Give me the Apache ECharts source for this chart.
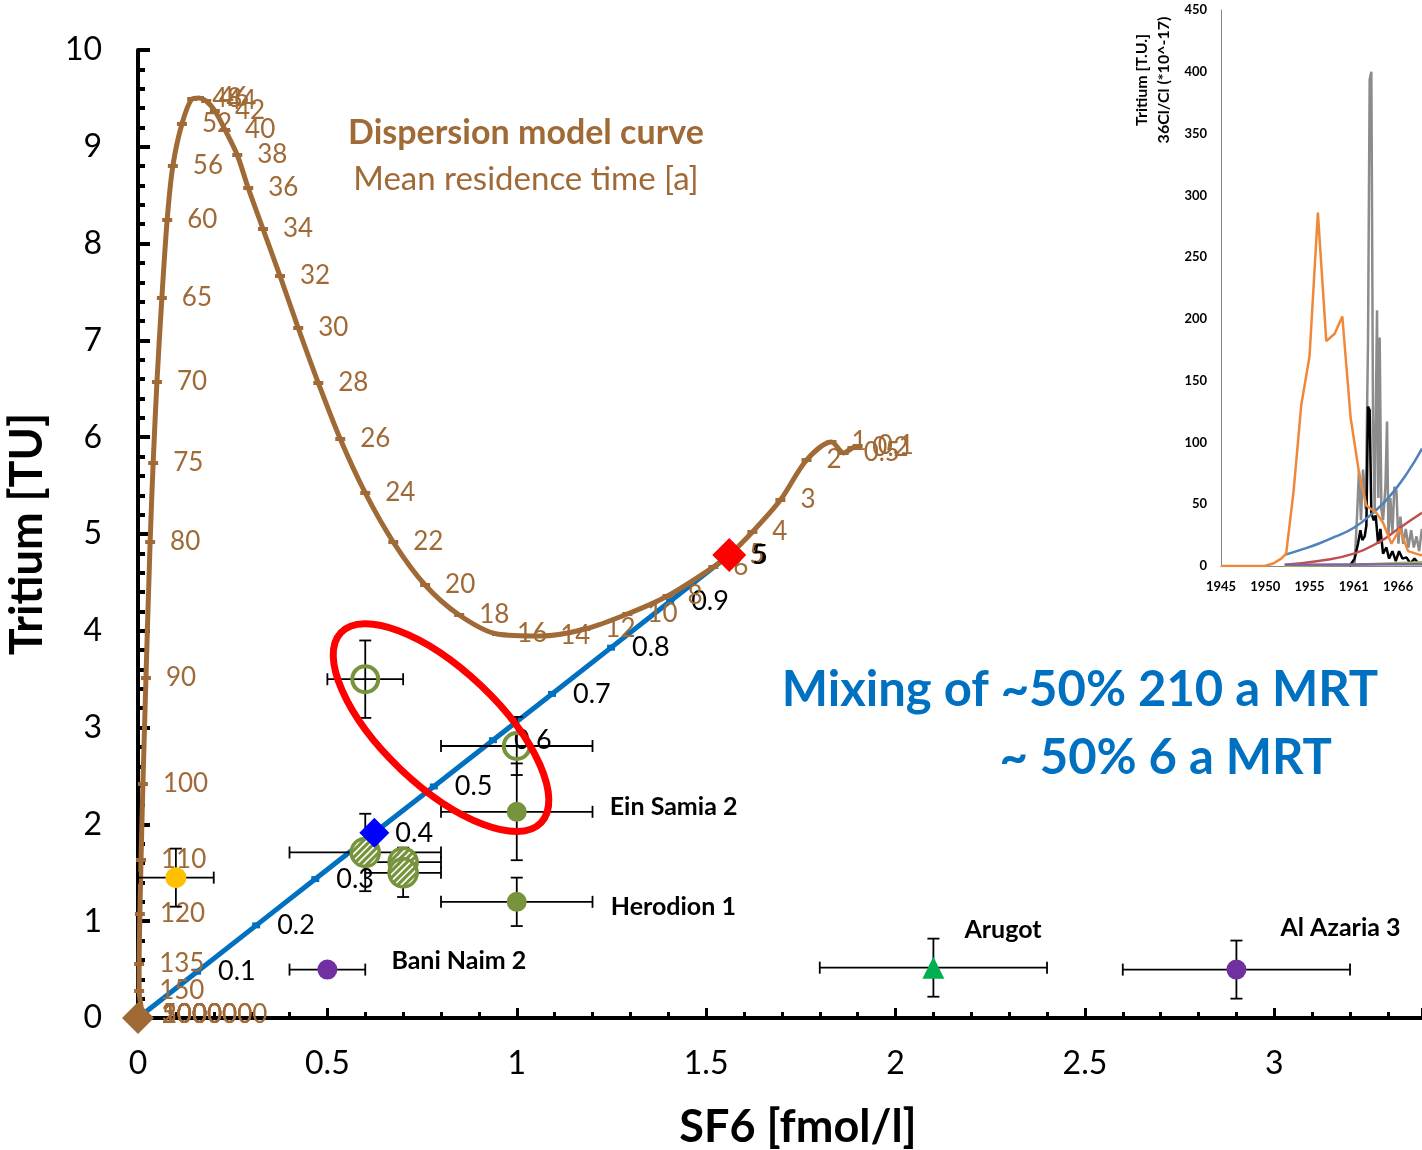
<!DOCTYPE html>
<html>
<head>
<meta charset="utf-8">
<script src="https://cdn.jsdelivr.net/npm/echarts@6/dist/echarts.min.js"></script>
<style>
html,body{margin:0;padding:0;background:#fff;}
#main{width:1422px;height:1150px;}
</style>
</head>
<body>
<div id="main"></div>
<script>
// dispersion model curve (mean residence time [a] -> SF6, tritium)
var curveAge = ['0.1','0.2','0.5','1','2','3','4','5','6','8','10','12','14','16','18','20','22','24','26','28','30','32','34','36','38','40','42','44','46','48','52','56','60','65','70','75','80','90','100','110','120','135','150','200','300','500','1000','10000','100000','1000000'];
var curveSF6 = [1.900,1.886,1.863,1.831,1.765,1.696,1.622,1.561,1.519,1.398,1.292,1.181,1.062,0.948,0.848,0.758,0.674,0.600,0.534,0.476,0.423,0.375,0.330,0.291,0.262,0.230,0.203,0.180,0.161,0.143,0.116,0.092,0.077,0.063,0.050,0.040,0.032,0.021,0.013,0.008,0.005,0.003,0.003,0.010,0.010,0.010,0.010,0.010,0.010,0.010];
var curveTU = [5.909,5.888,5.837,5.950,5.764,5.351,5.021,4.783,4.659,4.360,4.174,4.019,3.946,3.967,4.163,4.473,4.917,5.424,5.981,6.560,7.128,7.665,8.151,8.574,8.915,9.174,9.370,9.473,9.504,9.494,9.236,8.802,8.244,7.438,6.570,5.733,4.917,3.512,2.417,1.632,1.074,0.558,0.279,0.040,0.030,0.030,0.030,0.030,0.030,0.030];

// mixing line between old (~0,0) and young (6 a) end member
var mixLabel = ['','0.1','0.2','0.3','0.4','0.5','0.6','0.7','0.8','0.9','5'];
var mixSF6 = [0,0.156,0.312,0.468,0.624,0.781,0.937,1.093,1.249,1.405,1.561];
var mixTU = [0,0.478,0.957,1.435,1.913,2.392,2.870,3.348,3.826,4.305,4.783];

// samples: [SF6, tritium, SF6 error, tritium error]
var yellowSample = [[0.1,1.45,0.1,0.3]];
var hatchedSamples = [[0.6,1.71,0.2,0.4],[0.7,1.61,0.1,0.15],[0.7,1.5,0.1,0.25]];
var openSamples = [[0.6,3.5,0.1,0.4],[1.0,2.81,0.2,0.3]];
var greenSamples = [[1.0,2.13,0.2,0.5],[1.0,1.2,0.2,0.25]];
var greenNames = ['Ein Samia 2','Herodion 1'];
var purpleSamples = [[0.5,0.5,0.1,0.05],[2.9,0.5,0.3,0.3]];
var purpleNames = ['Bani Naim 2','Al Azaria 3'];
var triSamples = [[2.1,0.52,0.3,0.3]];
var triNames = ['Arugot'];

// end members
var oldEnd = [0,0];
var youngEnd = [1.561,4.783];
var mix40 = [0.624,1.913];

// inset: input functions (x in axis years)
var inTicks = ['1945','1950','1955','1961','1966'];
var inOrangeX = [1945,1949.9,1950.9,1951.8,1952.36,1953.19,1954.06,1955.0,1955.94,1956.89,1957.83,1958.7,1959.64,1960.6,1961.42,1962.55,1963.3,1964.25,1965.19,1966.13,1967.45,1967.7];
var inOrangeY = [0,0,2,6,10,60,130,170,286,182,188,202,120,75,49,43,35,18,30,12,9,9];
var inGreyX = [1959.53,1960.09,1960.36,1960.58,1960.81,1961.04,1961.34,1961.60,1961.79,1961.98,1962.17,1962.36,1962.47,1962.62,1962.77,1962.92,1963.11,1963.30,1963.57,1963.75,1963.91,1964.13,1964.36,1964.58,1964.81,1965.04,1965.26,1965.57,1965.87,1966.17,1966.47,1966.77,1967.08,1967.38,1967.68];
var inGreyY = [0,2,40,77,37,78,46,179,394,400,117,43,117,207,55,185,46,37,64,117,24,55,27,64,61,18,40,18,30,15,29,15,24,12,30];
var inBlackX = [1959.53,1960.09,1960.47,1960.74,1960.96,1961.23,1961.42,1961.60,1961.79,1961.98,1962.25,1962.47,1962.74,1963.0,1963.30,1963.68,1963.98,1964.36,1964.74,1965.11,1965.49,1965.94,1966.40,1966.85,1967.30];
var inBlackY = [0,6,18,29,21,24,33,129,126,43,37,41,18,30,10,15,6,12,4,12,6,7,2,6,2];
var inBlueX = [1952.2,1954,1956,1958,1960,1962,1964,1966,1967.7];
var inBlueY = [9,13,18,24,31,42,56,75,95];
var inRedX = [1952.2,1956,1960,1963,1965,1967.7];
var inRedY = [1,4,10,20,30,43];
var inGreenX = [1952.2,1960,1967.7];
var inGreenY = [0.3,1,3];
var inPurpleX = [1952.2,1960,1967.7];
var inPurpleY = [1,1.2,1.5];

function zip(a, b) { var r = []; for (var i = 0; i < a.length; i++) r.push([a[i], b[i]]); return r; }
function xy(pts) { return pts.map(function (p) { return [p[0], p[1]]; }); }

var brown = '#A06A37';
var olive = '#77933C';
var font = 'Lato, "Open Sans", sans-serif';

var allSamples = [].concat(yellowSample, hatchedSamples, openSamples, greenSamples, purpleSamples, triSamples);

function errBars(params, api) {
    var x = api.value(0), y = api.value(1), ex = api.value(2), ey = api.value(3);
    var l = api.coord([x - ex, y]), r = api.coord([x + ex, y]);
    var t = api.coord([x, y + ey]), b = api.coord([x, y - ey]);
    var h = 6, st = { stroke: '#000', lineWidth: 1.8 };
    return { type: 'group', children: [
        { type: 'line', shape: { x1: l[0], y1: l[1], x2: r[0], y2: r[1] }, style: st },
        { type: 'line', shape: { x1: l[0], y1: l[1] - h, x2: l[0], y2: l[1] + h }, style: st },
        { type: 'line', shape: { x1: r[0], y1: r[1] - h, x2: r[0], y2: r[1] + h }, style: st },
        { type: 'line', shape: { x1: t[0], y1: t[1], x2: b[0], y2: b[1] }, style: st },
        { type: 'line', shape: { x1: t[0] - h, y1: t[1], x2: t[0] + h, y2: t[1] }, style: st },
        { type: 'line', shape: { x1: b[0] - h, y1: b[1], x2: b[0] + h, y2: b[1] }, style: st }
    ] };
}

// green circle with white diagonal stripes
function hatchedCircle(params, api) {
    var p = api.coord([api.value(0), api.value(1)]);
    var r = 14, s = Math.SQRT1_2;
    var kids = [{ type: 'circle', shape: { cx: p[0], cy: p[1], r: r }, style: { fill: olive } }];
    for (var d = -12; d <= 12; d += 4.8) {
        var h = Math.sqrt(r * r - d * d);
        var mx = p[0] + d * s, my = p[1] + d * s;
        kids.push({ type: 'line', shape: { x1: mx - h * s, y1: my + h * s, x2: mx + h * s, y2: my - h * s },
                    style: { stroke: '#fff', lineWidth: 1.6 } });
    }
    kids.push({ type: 'circle', shape: { cx: p[0], cy: p[1], r: r }, style: { fill: 'none', stroke: olive, lineWidth: 3.5 } });
    return { type: 'group', children: kids };
}

function named(pts, names, offsets) {
    return pts.map(function (p, i) {
        return { value: [p[0], p[1]], name: names[i], label: { position: offsets[i] } };
    });
}

var nameStyle = { show: true, formatter: '{b}', color: '#000', fontSize: 25, fontWeight: 'bold', fontFamily: font };

var chart = echarts.init(document.getElementById('main'));
chart.setOption({
    animation: false,
    backgroundColor: '#fff',
    grid: [
        { left: 138, right: 0, top: 50, bottom: 132, outerBoundsMode: 'none', containLabel: false },
        { left: 1221, right: 0, top: 10, bottom: 584, outerBoundsMode: 'none', containLabel: false }
    ],
    xAxis: [{
        type: 'value', min: 0, max: 3.39, interval: 0.5, gridIndex: 0,
        axisLine: { lineStyle: { color: '#000', width: 4 } },
        axisTick: { inside: true, length: 10, lineStyle: { color: '#000', width: 3 } },
        minorTick: { show: true, splitNumber: 5, length: 6, lineStyle: { color: '#000', width: 3 } },
        axisLabel: { fontSize: 32, color: '#000', margin: 30, fontFamily: font, showMaxLabel: false },
        splitLine: { show: false }
    }, {
        type: 'value', min: 1945, max: 1967.7, interval: 5, gridIndex: 1,
        axisLine: { lineStyle: { color: '#868686', width: 1 } },
        axisTick: { show: false },
        axisLabel: { fontSize: 13, fontWeight: 'bold', color: '#000', margin: 14, fontFamily: font, showMaxLabel: false,
            formatter: function (v) { return inTicks[Math.round((v - 1945) / 5)] || ''; } },
        splitLine: { show: false }
    }],
    yAxis: [{
        type: 'value', min: 0, max: 10, interval: 1, gridIndex: 0,
        name: 'Tritium [TU]', nameLocation: 'middle', nameGap: 88,
        nameTextStyle: { fontSize: 45, fontWeight: 'bold', color: '#000', fontFamily: font },
        axisLine: { lineStyle: { color: '#000', width: 4 } },
        axisTick: { inside: true, length: 12, lineStyle: { color: '#000', width: 4 } },
        minorTick: { show: true, splitNumber: 5, length: 7, lineStyle: { color: '#000', width: 4 } },
        axisLabel: { fontSize: 32, color: '#000', margin: 36, fontFamily: font },
        splitLine: { show: false }
    }, {
        type: 'value', min: 0, max: 450, interval: 50, gridIndex: 1,
        axisLine: { show: true, lineStyle: { color: '#868686', width: 1 } },
        axisTick: { show: false },
        axisLabel: { fontSize: 13, fontWeight: 'bold', color: '#000', margin: 14, fontFamily: font },
        splitLine: { show: false }
    }],
    series: [
        // inset
        { type: 'line', xAxisIndex: 1, yAxisIndex: 1, data: zip(inGreyX, inGreyY), showSymbol: false, lineStyle: { color: '#8C8C8C', width: 2.5 }, z: 1 },
        { type: 'line', xAxisIndex: 1, yAxisIndex: 1, data: zip(inBlackX, inBlackY), showSymbol: false, lineStyle: { color: '#000', width: 2.5 }, z: 2 },
        { type: 'line', xAxisIndex: 1, yAxisIndex: 1, data: zip(inRedX, inRedY), showSymbol: false, smooth: true, lineStyle: { color: '#C0504D', width: 2.5 }, z: 2 },
        { type: 'line', xAxisIndex: 1, yAxisIndex: 1, data: zip(inBlueX, inBlueY), showSymbol: false, smooth: true, lineStyle: { color: '#4F81BD', width: 2.5 }, z: 2 },
        { type: 'line', xAxisIndex: 1, yAxisIndex: 1, data: zip(inGreenX, inGreenY), showSymbol: false, lineStyle: { color: '#9BBB59', width: 2.5 }, z: 2 },
        { type: 'line', xAxisIndex: 1, yAxisIndex: 1, data: zip(inPurpleX, inPurpleY), showSymbol: false, lineStyle: { color: '#8064A2', width: 2.5 }, z: 2 },
        { type: 'line', xAxisIndex: 1, yAxisIndex: 1, data: zip(inOrangeX, inOrangeY), showSymbol: false, lineStyle: { color: '#F0883A', width: 2.5 }, z: 3 },

        // mixing line
        { type: 'line', data: zip(mixSF6, mixTU), symbol: 'rect', symbolSize: [8, 6], clip: false,
          lineStyle: { color: '#0070C0', width: 5 }, itemStyle: { color: '#0070C0' },
          label: { show: true, position: 'right', distance: 17, color: '#000', fontSize: 27, fontFamily: font,
                   formatter: function (p) { return mixLabel[p.dataIndex]; } }, z: 3 },
        // dispersion curve
        { type: 'line', data: zip(curveSF6, curveTU), symbol: 'rect', symbolSize: [10, 4], smooth: 0.3, clip: false,
          lineStyle: { color: brown, width: 5 }, itemStyle: { color: brown },
          label: { show: true, position: 'right', distance: 15, color: brown, fontSize: 26, fontFamily: font,
                   formatter: function (p) { return curveAge[p.dataIndex]; } }, z: 4 },

        // error bars
        { type: 'custom', renderItem: errBars, data: allSamples, z: 5, clip: false },

        { type: 'scatter', data: xy(yellowSample), symbolSize: 21,
          itemStyle: { color: '#FFC000', opacity: 1 }, z: 6 },
        { type: 'custom', renderItem: hatchedCircle, data: xy(hatchedSamples), z: 6 },
        { type: 'scatter', data: xy(openSamples), symbolSize: 26,
          itemStyle: { color: 'rgba(255,255,255,0)', borderColor: olive, borderWidth: 4, opacity: 1 }, z: 6 },
        { type: 'scatter', data: named(greenSamples, greenNames, [[103, -7], [104, 3]]), symbolSize: 20,
          itemStyle: { color: olive, opacity: 1 }, label: nameStyle, z: 6 },
        { type: 'scatter', data: named(purpleSamples, purpleNames, [[74, -11], [54, -44]]), symbolSize: 20,
          itemStyle: { color: '#7030A0', opacity: 1 }, label: nameStyle, z: 6 },
        { type: 'scatter', data: named(triSamples, triNames, [[42, -39]]), symbol: 'triangle', symbolSize: 22,
          itemStyle: { color: '#00B050', opacity: 1 }, label: nameStyle, z: 6 },

        // end members
        { type: 'scatter', data: [oldEnd], symbol: 'diamond', symbolSize: 32, clip: false, itemStyle: { color: brown, opacity: 1 }, z: 7 },
        { type: 'scatter', data: [mix40], symbol: 'diamond', symbolSize: 30, itemStyle: { color: '#0000FF', opacity: 1 }, z: 7 },
        { type: 'scatter', data: [youngEnd], symbol: 'diamond', symbolSize: 34, itemStyle: { color: '#FF0000', opacity: 1 },
          label: { show: true, position: 'right', distance: 6, formatter: '5', color: '#000', fontSize: 27, fontFamily: font }, z: 7 }
    ]
});

var c = chart.convertToPixel({ gridIndex: 0 }, [0.80, 3.0]);
chart.setOption({
    graphic: [
        { type: 'ellipse', x: c[0], y: c[1], rotation: -43.5 * Math.PI / 180,
          shape: { cx: 0, cy: 0, rx: 138, ry: 58 }, style: { fill: 'none', stroke: '#FF0000', lineWidth: 7 }, z: 50 },
        { type: 'text', x: 798, y: 1127, style: { text: 'SF6 [fmol/l]', fill: '#000', font: 'bold 45px ' + font, textAlign: 'center', textVerticalAlign: 'middle' } },
        { type: 'text', x: 526, y: 133, style: { text: 'Dispersion model curve', fill: brown, font: 'bold 34px ' + font, textAlign: 'center', textVerticalAlign: 'middle' } },
        { type: 'text', x: 526, y: 179, style: { text: 'Mean residence time [a]', fill: brown, font: '33px ' + font, textAlign: 'center', textVerticalAlign: 'middle' } },
        { type: 'text', x: 1080, y: 690, style: { text: 'Mixing of ~50% 210 a MRT', fill: '#0070C0', font: 'bold 49px ' + font, textAlign: 'center', textVerticalAlign: 'middle' } },
        { type: 'text', x: 1332, y: 758, style: { text: '~ 50% 6 a MRT', fill: '#0070C0', font: 'bold 49px ' + font, textAlign: 'right', textVerticalAlign: 'middle' } },
        { type: 'text', x: 1142, y: 80, rotation: Math.PI / 2, style: { text: 'Tritium [T.U.]', fill: '#000', font: 'bold 16px ' + font, textAlign: 'center', textVerticalAlign: 'middle' } },
        { type: 'text', x: 1164, y: 80, rotation: Math.PI / 2, style: { text: '36Cl/Cl (*10^-17)', fill: '#000', font: 'bold 16px ' + font, textAlign: 'center', textVerticalAlign: 'middle' } }
    ]
});
</script>
</body>
</html>
